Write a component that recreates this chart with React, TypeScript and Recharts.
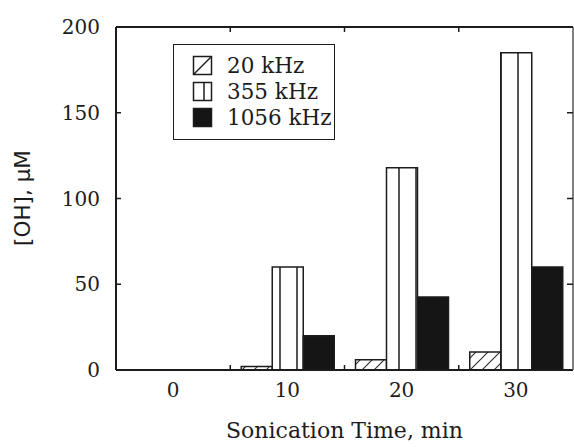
import { BarChart, Bar, XAxis, YAxis, Legend, Label, ReferenceLine } from 'recharts';

// sonication time categories (min)
const times = ['0', '10', '20', '30'];
// [OH] in µM per frequency
const oh20 = [0, 2, 6, 10.5];
const oh355 = [0, 60, 118, 185];
const oh1056 = [0, 20, 42.5, 60];
const yTicks = [0, 50, 100, 150, 200];
const seriesOrder = ['k20', 'k355', 'k1056'];

const data = times.map((t, i) => ({
  time: t,
  k20: oh20[i],
  k355: oh355[i],
  k1056: oh1056[i],
}));

const INK = '#1c1c1c';
const SERIF = '"DejaVu Serif", serif';

// frame geometry (chart box)
const W = 574;
const H = 447;
const TOP = 27;
const LEFT = 116;
const RIGHT = 573;
const XAXIS_H = 77;
const TICK = 5;
const X_TICK_MARGIN = 12;

// x tick: label at group centre, inward tick marks on the group borders (bottom and top)
function TimeTick({ x, y, payload, index }: any) {
  const half = payload?.offset ?? (RIGHT - LEFT) / times.length / 2;
  const edge = x - half;
  const axisY = y - X_TICK_MARGIN;
  return (
    <g>
      {index > 0 && <line x1={edge} x2={edge} y1={axisY} y2={axisY - TICK} stroke={INK} strokeWidth={1.5} />}
      {index > 0 && <line x1={edge} x2={edge} y1={TOP} y2={TOP + TICK} stroke={INK} strokeWidth={1.5} />}
      <text x={x} y={y} dy="0.75em" textAnchor="middle" fontFamily={SERIF} fontSize={20} fill={INK}>
        {payload.value}
      </text>
    </g>
  );
}

// y tick: label on the left, mirrored inward tick on the right border
function ValueTick({ x, y, payload, index }: any) {
  return (
    <g>
      <line x1={RIGHT - TICK - 1} x2={RIGHT} y1={y} y2={y} stroke={INK} strokeWidth={1.5} />
      {index === 0 && <line x1={RIGHT} x2={RIGHT} y1={TOP} y2={y} stroke="#555" strokeWidth={1.5} />}
      <text x={x} y={y} textAnchor="end" dominantBaseline="central" fontFamily={SERIF} fontSize={20} fill={INK}>
        {payload.value}
      </text>
    </g>
  );
}

function Swatch({ kind }: { kind: string }) {
  return (
    <svg width={22} height={22} style={{ display: 'block' }}>
      <rect x={1.5} y={1.5} width={18} height={18} fill={kind === 'k1056' ? '#151515' : '#fff'} stroke={INK} strokeWidth={1.5} />
      {kind === 'k20' && <line x1={2} y1={19} x2={19} y2={2} stroke={INK} strokeWidth={1.5} />}
      {kind === 'k355' && <line x1={12} y1={2} x2={12} y2={19} stroke={INK} strokeWidth={1.5} />}
    </svg>
  );
}

function LegendBox({ payload }: any) {
  const items = [...(payload || [])].sort(
    (a: any, b: any) => seriesOrder.indexOf(a.dataKey) - seriesOrder.indexOf(b.dataKey)
  );
  return (
    <div
      style={{
        boxSizing: 'border-box',
        width: 162,
        height: 96,
        border: `1.5px solid ${INK}`,
        background: '#fff',
        padding: '8px 0 0 18px',
      }}
    >
      {items.map((p: any) => (
        <div key={p.dataKey} style={{ display: 'flex', alignItems: 'center', height: 26 }}>
          <Swatch kind={p.dataKey} />
          <span style={{ marginLeft: 13, fontFamily: SERIF, fontSize: 21.5, color: INK, lineHeight: '26px', whiteSpace: 'nowrap' }}>{p.value}</span>
        </div>
      ))}
    </div>
  );
}

export default function App() {
  return (
    <div style={{ position: 'absolute', left: 0, top: 0, background: '#fff' }}>
      <BarChart width={W} height={H} data={data} margin={{ top: TOP, right: W - RIGHT, bottom: 0, left: 0 }} barGap={0}>
        <defs>
          <pattern id="hatch20" patternUnits="userSpaceOnUse" width={12} height={12}>
            <rect width={12} height={12} fill="#fff" />
            <path d="M-1,1 L1,-1 M0,12 L12,0 M11,13 L13,11" stroke="#333" strokeWidth={1.2} />
          </pattern>
          <pattern id="vert355" patternUnits="userSpaceOnUse" width={17} height={10}>
            <rect width={17} height={10} fill="#fff" />
            <line x1={8} y1={0} x2={8} y2={10} stroke={INK} strokeWidth={1.5} />
          </pattern>
        </defs>
        <XAxis
          xAxisId="cat"
          dataKey="time"
          height={XAXIS_H}
          axisLine={{ stroke: INK, strokeWidth: 2 }}
          tickLine={false}
          tickSize={0}
          tickMargin={X_TICK_MARGIN}
          tick={<TimeTick />}
        >
          <Label value="Sonication Time, min" position="insideBottom" offset={9} fill={INK} fontFamily={SERIF} fontSize={22} />
        </XAxis>
        <YAxis
          yAxisId="l"
          domain={[0, 200]}
          ticks={yTicks}
          width={LEFT}
          axisLine={{ stroke: INK, strokeWidth: 2 }}
          tickSize={-TICK}
          tickMargin={21}
          tickLine={{ stroke: INK, strokeWidth: 1.5 }}
          tick={<ValueTick />}
        >
          <Label
            content={() => (
              <text
                x={22}
                y={198}
                transform="rotate(-90 22 198)"
                textAnchor="middle"
                dominantBaseline="central"
                fontFamily='"DejaVu Sans", sans-serif'
                fontSize={21.5}
                fill={INK}
              >
                [OH], μM
              </text>
            )}
          />
        </YAxis>
        <ReferenceLine xAxisId="cat" yAxisId="l" y={200} stroke={INK} strokeWidth={2} />
        <Legend
          layout="vertical"
          align="center"
          verticalAlign="middle"
          wrapperStyle={{ position: 'absolute', left: 173, top: 44, width: 162 }}
          content={<LegendBox />}
        />
        <Bar xAxisId="cat" yAxisId="l" dataKey="k20" name="20 kHz" barSize={31} fill="url(#hatch20)" stroke={INK} strokeWidth={1.5} isAnimationActive={false} />
        <Bar xAxisId="cat" yAxisId="l" dataKey="k355" name="355 kHz" barSize={31} fill="url(#vert355)" stroke={INK} strokeWidth={1.5} isAnimationActive={false} />
        <Bar xAxisId="cat" yAxisId="l" dataKey="k1056" name="1056 kHz" barSize={31} fill="#151515" stroke={INK} strokeWidth={1.5} isAnimationActive={false} />
      </BarChart>
    </div>
  );
}
